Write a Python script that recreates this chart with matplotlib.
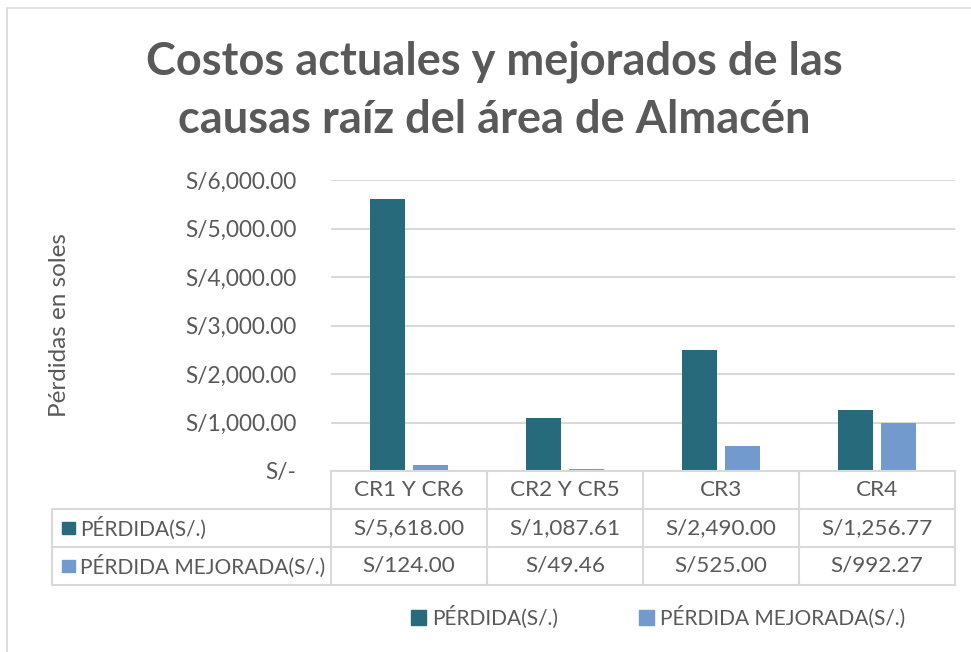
import matplotlib.pyplot as plt
from matplotlib.patches import Rectangle, Patch
from matplotlib.lines import Line2D

categorias = ['CR1 Y CR6', 'CR2 Y CR5', 'CR3', 'CR4']
perdida = [5618.00, 1087.61, 2490.00, 1256.77]
perdida_mejorada = [124.00, 49.46, 525.00, 992.27]
series = ['PÉRDIDA(S/.)', 'PÉRDIDA MEJORADA(S/.)']
yticks = [0, 1000, 2000, 3000, 4000, 5000, 6000]

plt.rcParams['font.family'] = ['Lato', 'DejaVu Sans']
gris = '#595959'
c1, c2 = '#276A7C', '#739ACC'
linea = '#D9D9D9'

W, H = 971, 652
fig = plt.figure(figsize=(W / 100, H / 100), dpi=100)

def fx(x):
    return x / W

def fy(y):
    return 1 - y / H

# borde del gráfico
fig.patches.append(Rectangle((fx(7), fy(700)), fx(1000), fy(8) - fy(700),
                             transform=fig.transFigure, fill=False,
                             edgecolor=linea, lw=1.2))

fig.text(fx(494), fy(62), 'Costos actuales y mejorados de las', ha='center',
         va='center', fontsize=32.5, fontweight='bold', color=gris)
fig.text(fx(494), fy(120), 'causas raíz del área de Almacén', ha='center',
         va='center', fontsize=32.5, fontweight='bold', color=gris)

x0, x1, ytop, ybot = 331, 955, 180, 471
ax = fig.add_axes([fx(x0), fy(ybot), fx(x1) - fx(x0), fy(ytop) - fy(ybot)])
n = len(categorias)
xs = list(range(n))
ax.bar([x - 0.14 for x in xs], perdida, width=0.225, color=c1)
ax.bar([x + 0.14 for x in xs], perdida_mejorada, width=0.225, color=c2)
ax.set_xlim(-0.5, n - 0.5)
ax.set_ylim(0, 6000)
ax.set_yticks(yticks)
ax.set_yticklabels(['S/-' if v == 0 else 'S/{:,.2f}'.format(v) for v in yticks])
ax.tick_params(axis='y', length=0, labelsize=16.3, labelcolor=gris, pad=25)
ax.set_xticks([])
ax.grid(axis='y', color=linea, lw=1.5)
ax.set_axisbelow(True)
for s in ax.spines.values():
    s.set_visible(False)

fig.text(fx(60), fy(325), 'Pérdidas en soles', rotation=90, ha='center',
         va='center', fontsize=17.5, color=gris)

# tabla de datos
colw = (x1 - x0) / n
rows = [471, 509, 547, 585]
lw = 1.5
def hline(y, xa, xb):
    fig.add_artist(Line2D([fx(xa), fx(xb)], [fy(y), fy(y)], color=linea, lw=lw))
def vline(x, ya, yb):
    fig.add_artist(Line2D([fx(x), fx(x)], [fy(ya), fy(yb)], color=linea, lw=lw))

hline(rows[0], x0, x1)
for y in rows[1:]:
    hline(y, 52, x1)
vline(52, rows[1], rows[3])
for i in range(n + 1):
    vline(x0 + i * colw, rows[0], rows[3])

ft = 16.2
for i, cat in enumerate(categorias):
    cx = x0 + (i + 0.5) * colw
    fig.text(fx(cx), fy((rows[0] + rows[1]) / 2), cat, ha='center', va='center',
             fontsize=ft, color=gris)
    fig.text(fx(cx), fy((rows[1] + rows[2]) / 2), 'S/{:,.2f}'.format(perdida[i]),
             ha='center', va='center', fontsize=ft, color=gris)
    fig.text(fx(cx), fy((rows[2] + rows[3]) / 2), 'S/{:,.2f}'.format(perdida_mejorada[i]),
             ha='center', va='center', fontsize=ft, color=gris)

for j, (nombre, col) in enumerate(zip(series, [c1, c2])):
    yc = (rows[j + 1] + rows[j + 2]) / 2
    fig.patches.append(Rectangle((fx(62), fy(yc + 6)), fx(13), fy(yc - 6) - fy(yc + 6),
                                 transform=fig.transFigure, color=col))
    fig.text(fx(80), fy(yc), nombre, ha='left', va='center', fontsize=15, color=gris)

fig.legend(handles=[Patch(color=c1, label=series[0]), Patch(color=c2, label=series[1])],
           loc='center', bbox_to_anchor=(fx(658), fy(617)), ncol=2, frameon=False,
           fontsize=15, labelcolor=gris, handlelength=0.7, handleheight=0.7,
           handletextpad=0.3, columnspacing=3.9)

fig.savefig('out.png', dpi=100)
